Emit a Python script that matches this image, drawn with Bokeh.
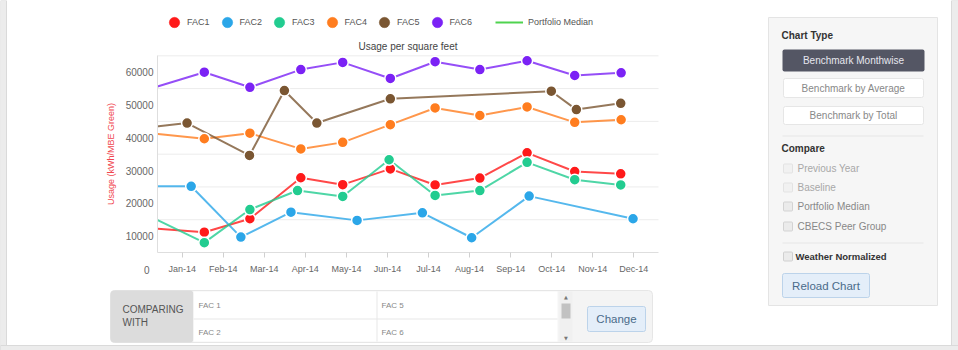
from bokeh.plotting import figure
from bokeh.models import (Range1d, FixedTicker, Label, BoxAnnotation, Legend, LegendItem,
                          ColumnDataSource, LinearAxis)
from bokeh.embed import file_html
from bokeh.resources import INLINE

NAN = float("nan")

# ---------------- data ----------------
months = ["Jan-14", "Feb-14", "Mar-14", "Apr-14", "May-14", "Jun-14",
          "Jul-14", "Aug-14", "Sep-14", "Oct-14", "Nov-14", "Dec-14"]
month_pos = list(range(12))

y_ticks = [10000, 20000, 30000, 40000, 50000, 60000]
y_tick_labels = ["10000", "20000", "30000", "40000", "50000", "60000"]
grid_ticks = [15000, 25000, 35000, 45000, 55000, 65000]

# x positions are in months from Jan-14 (first point lies before the visible range)
fac1_x = [-1.0, 0.54, 1.65, 2.89, 3.91, 5.07, 6.16, 7.25, 8.40, 9.56, 10.68]
fac1_y = [12600, 11200, 15300, 27800, 25700, 30500, 25600, 27700, 35400, 29700, 29000]

fac2_x = [-1.0, 0.22, 1.43, 2.65, 4.26, 5.85, 7.05, 8.45, 10.98]
fac2_y = [25200, 25200, 9700, 17300, 14800, 17100, 9500, 22200, 15300]

fac3_x = [-1.0, 0.54, 1.65, 2.81, 3.91, 5.04, 6.16, 7.25, 8.40, 9.56, 10.68]
fac3_y = [17300, 8000, 18100, 23900, 22100, 33300, 22400, 23900, 32500, 27200, 25600]

fac4_x = [-1.0, 0.54, 1.65, 2.89, 3.91, 5.07, 6.16, 7.25, 8.40, 9.56, 10.69]
fac4_y = [41700, 39700, 41400, 36600, 38600, 44000, 49100, 46800, 49400, 44700, 45500]

fac5_x = [-1.0, 0.12, 1.64, 2.49, 3.28, 5.07, 8.99, 9.60, 10.68]
fac5_y = [42900, 44500, 34600, 54400, 44500, 51900, 54200, 48600, 50500]

fac6_x = [-1.0, 0.54, 1.65, 2.89, 3.91, 5.07, 6.16, 7.25, 8.40, 9.56, 10.69]
fac6_y = [54100, 60000, 55400, 60800, 63000, 58100, 63200, 60800, 63500, 59000, 59800]

series_names = ["FAC1", "FAC2", "FAC3", "FAC4", "FAC5", "FAC6"]
series_colors = ["#ff1a1a", "#2ba6e8", "#22cc90", "#ff7d1f", "#7a5632", "#7b22f5"]
median_color = "#4fd34f"

compare_items = ["Previous Year", "Baseline", "Portfolio Median", "CBECS Peer Group"]
chart_types = ["Benchmark Monthwise", "Benchmark by Average", "Benchmark by Total"]
comparing = [["FAC 1", "FAC 5"], ["FAC 2", "FAC 6"]]

# ---------------- layout constants (page pixels) ----------------
FONT = "Liberation Sans"
W, H = 958, 350
FL, FT, FR, FB = 157, 55, 658, 252      # chart area edges
CH_X = (-0.6, 11.6)                     # visible month span
CH_Y = (5000, 65100)                    # visible value span

kx = (CH_X[1] - CH_X[0]) / (FR - FL)
ky = (CH_Y[1] - CH_Y[0]) / (FB - FT)

p = figure(width=W, height=H, x_range=Range1d(0, W), y_range=Range1d(H, 0),
           output_backend="svg", toolbar_location=None, title=None,
           x_axis_location=None, y_axis_location=None,
           min_border_left=0, min_border_right=0, min_border_top=0, min_border_bottom=0)
p.background_fill_color = "white"
p.border_fill_color = "white"
p.outline_line_color = None
p.grid.visible = False

# chart scales covering the whole canvas, so that the chart area lands where it should
p.extra_x_ranges = {"m": Range1d(CH_X[0] - FL * kx, CH_X[1] + (W - FR) * kx)}
p.extra_y_ranges = {"v": Range1d(CH_Y[0] - (H - FB) * ky, CH_Y[1] + FT * ky)}

# horizontal grid lines
p.segment(x0=[CH_X[0]] * len(grid_ticks), x1=[CH_X[1]] * len(grid_ticks),
          y0=grid_ticks, y1=grid_ticks, x_range_name="m", y_range_name="v",
          line_color="#ececec", line_width=1)

all_x = [fac1_x, fac2_x, fac3_x, fac4_x, fac5_x, fac6_x]
all_y = [fac1_y, fac2_y, fac3_y, fac4_y, fac5_y, fac6_y]
for xs, ys, c in zip(all_x, all_y, series_colors):
    src = ColumnDataSource(dict(x=xs, y=ys))
    p.line("x", "y", source=src, line_color=c, line_width=2, line_alpha=0.8,
           x_range_name="m", y_range_name="v")
for xs, ys, c in zip(all_x, all_y, series_colors):
    src = ColumnDataSource(dict(x=xs, y=ys))
    p.scatter("x", "y", source=src, size=11, fill_color=c, line_color="white", line_width=1.5,
              x_range_name="m", y_range_name="v")

# legend-only renderers (no visible data)
legend_markers = [p.scatter(x=[NAN], y=[NAN], size=10, fill_color=c, line_color=c, line_width=0.5,
                            x_range_name="m", y_range_name="v") for c in series_colors]
median_r = p.line(x=[NAN, NAN], y=[NAN, NAN], line_color=median_color, line_width=2,
                  x_range_name="m", y_range_name="v")

# white mask hiding the part of the series that lies left of the chart area
p.quad(left=[118], right=[FL - 0.5], top=[FT - 5], bottom=[FB + 5],
       fill_color="white", line_color=None)

# axes
xax = LinearAxis(x_range_name="m", y_range_name="v", fixed_location=CH_Y[0], bounds=CH_X,
                 ticker=FixedTicker(ticks=month_pos))
xax.major_label_overrides = {i: m for i, m in zip(month_pos, months)}
xax.minor_tick_line_color = None
xax.major_tick_in = 0
xax.major_tick_out = 5
xax.major_tick_line_color = "#d0d0d0"
xax.axis_line_color = "#dedede"
xax.major_label_text_font = FONT
xax.major_label_text_font_size = "9px"
xax.major_label_text_color = "#666666"
xax.major_label_standoff = 6
p.add_layout(xax, "below")

yax = LinearAxis(x_range_name="m", y_range_name="v", fixed_location=CH_X[0], bounds=CH_Y,
                 ticker=FixedTicker(ticks=y_ticks))
yax.major_label_overrides = {t: l for t, l in zip(y_ticks, y_tick_labels)}
yax.major_tick_line_color = None
yax.minor_tick_line_color = None
yax.major_tick_in = 0
yax.major_tick_out = 0
yax.axis_line_color = "#dedede"
yax.major_label_text_font = FONT
yax.major_label_text_font_size = "10px"
yax.major_label_text_color = "#666666"
yax.major_label_standoff = 4
yax.axis_label = "Usage (kWh/MBE Green)"
yax.axis_label_text_font = FONT
yax.axis_label_text_font_size = "9px"
yax.axis_label_text_font_style = "normal"
yax.axis_label_text_color = "#f0474f"
yax.axis_label_standoff = 7
p.add_layout(yax, "left")

# ---------------- page decoration helpers (page pixels, y downwards) ----------------
def box(x0, y0, x1, y1, fill, line=None, radius=0):
    p.add_layout(BoxAnnotation(left=x0, right=x1, top=y0, bottom=y1,
                               fill_color=fill, fill_alpha=1.0,
                               line_color=line, line_alpha=1.0, line_width=1,
                               border_radius=radius))

def text(X, Y, s, size=10, color="#555555", align="left", style="normal", font=FONT):
    p.add_layout(Label(x=X, y=Y, text=s,
                       text_font=font, text_font_size=f"{size}px", text_color=color,
                       text_align=align, text_baseline="middle", text_font_style=style))

# page border
box(0, 0, 6, 350, "#ececec", "#dadada")
box(951, 0, 958, 350, "#ececec", "#dadada")
box(0, 345, 958, 350, "#ececec", "#dadada")

# "0" label and chart title
text(149, 269, "0", size=10, color="#666666", align="right")
text((FL + FR) / 2, 46, "Usage per square feet", size=10, color="#444444", align="center")

# legend (location: bottom-left corner, screen px from the canvas bottom-left)
leg = Legend(items=[LegendItem(label=n, renderers=[r]) for n, r in zip(series_names, legend_markers)],
             orientation="horizontal", location=(161, H - 35), glyph_width=26, glyph_height=26,
             label_standoff=-3, spacing=4, padding=0, margin=0, border_line_color=None,
             background_fill_alpha=0, label_text_font=FONT, label_text_font_size="9px",
             label_text_color="#555555")
p.add_layout(leg)
leg2 = Legend(items=[LegendItem(label="Portfolio Median", renderers=[median_r])],
              orientation="horizontal", location=(495, H - 35), glyph_width=28, glyph_height=26,
              label_standoff=5, padding=0, margin=0, border_line_color=None,
              background_fill_alpha=0, label_text_font=FONT, label_text_font_size="9px",
              label_text_color="#555555")
p.add_layout(leg2)

# side panel
box(768, 17, 937, 305, "#f6f6f6", "#e4e4e4")
text(781, 35, "Chart Type", size=10, color="#333333", style="bold")
box(782, 49, 924, 71, "#545664", None, 2)
text(853, 60, chart_types[0], size=10, color="#e6e6ee", align="center")
box(783, 78, 923, 97, "#ffffff", "#e6e6e6", 2)
text(853, 88, chart_types[1], size=10, color="#888888", align="center")
box(783, 106, 923, 124, "#ffffff", "#e6e6e6", 2)
text(853, 115, chart_types[2], size=10, color="#888888", align="center")
box(782, 135, 923, 136, "#e6e6e6")
text(781, 148, "Compare", size=10, color="#333333", style="bold")
rows_y = [168, 187, 206, 226]
for i, (lab, yy) in enumerate(zip(compare_items, rows_y)):
    light = i < 2
    box(783, yy - 4.5, 792, yy + 4.5, "#f1f1f1" if light else "#ebebeb",
        "#e3e3e3" if light else "#d3d3d3", 1)
    text(797, yy, lab, size=10, color="#a8a8a8" if light else "#888888")
box(782, 242, 923, 243, "#e6e6e6")
box(783, 251.5, 792, 260.5, "#ebebeb", "#d0d0d0", 1)
text(795, 256, "Weather Normalized", size=9.5, color="#333333", style="bold")
box(782, 273, 869, 297, "#e4eef9", "#bcd3ea", 2)
text(825.5, 285, "Reload Chart", size=11.5, color="#4a6b8a", align="center")

# bottom "comparing with" table
box(110, 290, 652, 342, "#f4f4f4", "#e6e6e6", 4)
box(110, 290, 193, 342, "#dcdcdc", None, 4)
text(122, 308.5, "COMPARING", size=10, color="#555555")
text(122, 321.5, "WITH", size=10, color="#555555")
box(193, 291, 557, 341, "#ffffff")
box(193, 318, 557, 319, "#e8e8e8")
box(376, 291, 377, 341, "#e8e8e8")
for r, yy in enumerate([305, 332]):
    text(198, yy, comparing[r][0], size=8, color="#888888")
    text(381, yy, comparing[r][1], size=8, color="#888888")
box(559, 291, 572, 341, "#f0f0f0")
box(561, 303, 570, 318, "#c2c2c2")
text(565.5, 296, "\u25b2", size=5, color="#777777", align="center", font="DejaVu Sans")
text(565.5, 337, "\u25bc", size=5, color="#777777", align="center", font="DejaVu Sans")
box(587, 306, 645, 331, "#e4eef9", "#bcd3ea", 2)
text(616, 318.5, "Change", size=11.5, color="#4a6b8a", align="center")

open("out.html", "w").write(file_html(p, INLINE))
